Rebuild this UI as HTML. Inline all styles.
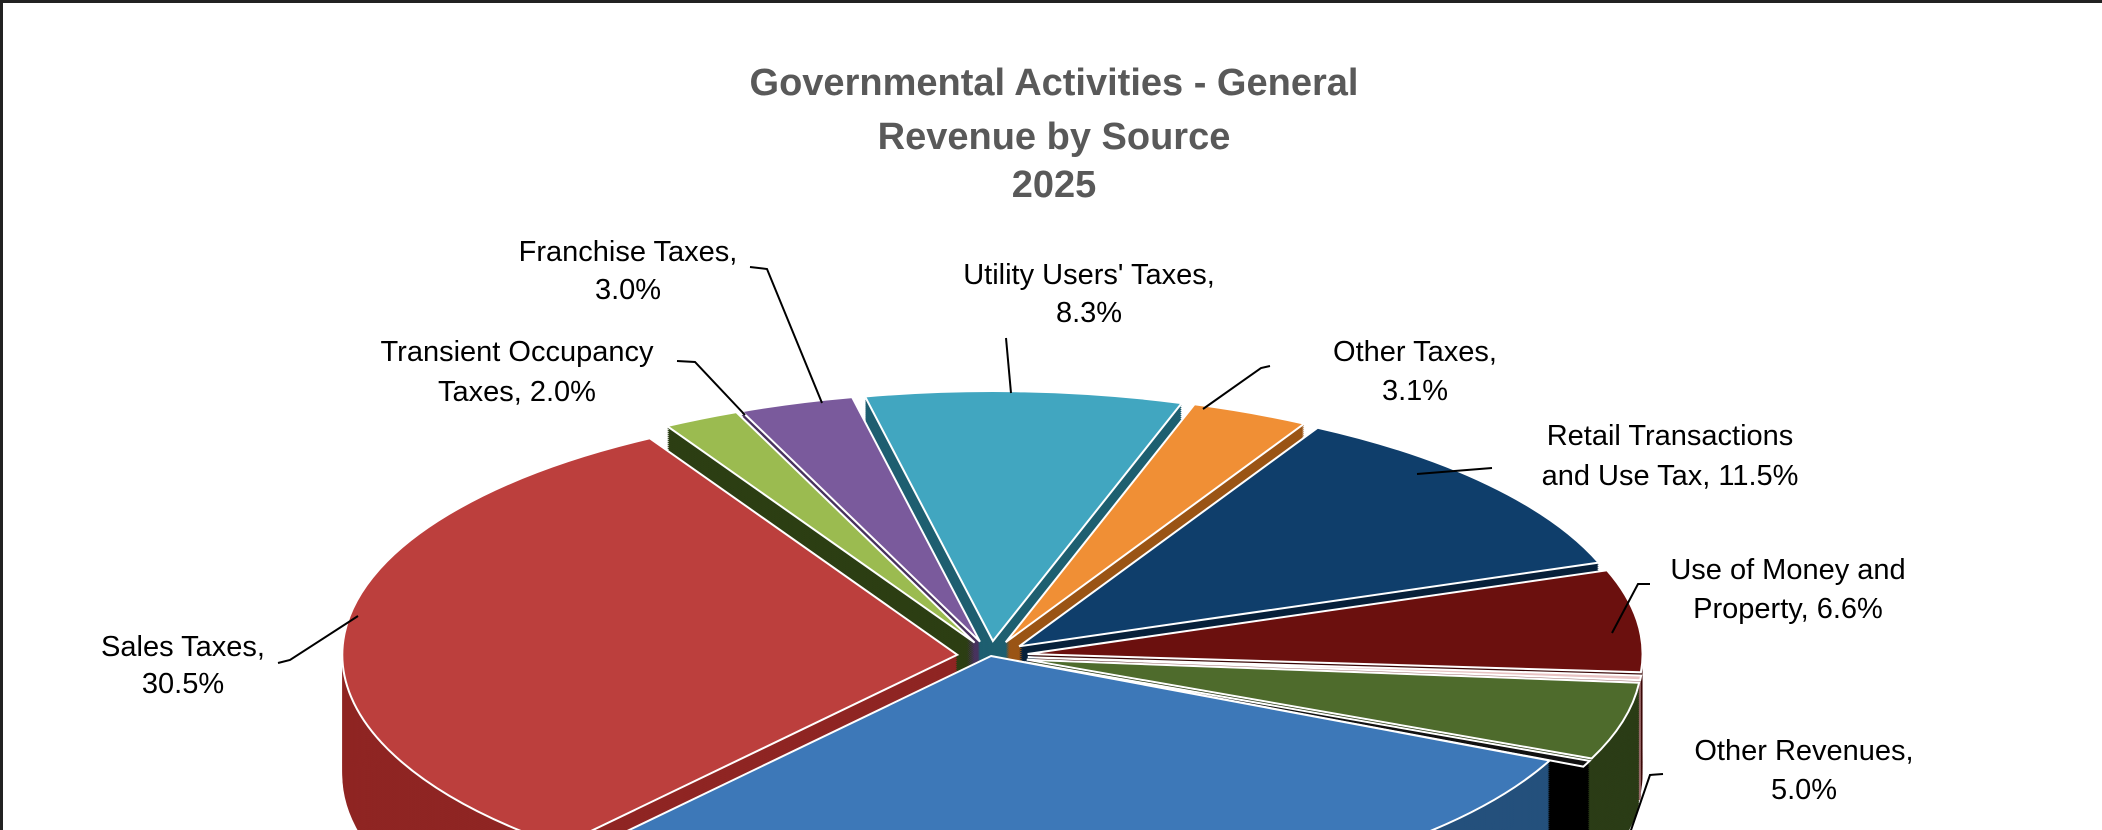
<!DOCTYPE html>
<html><head><meta charset="utf-8"><style>
html,body{margin:0;padding:0;background:#fff;overflow:hidden;width:2102px;height:830px;}
#wrap{position:relative;width:2102px;height:830px;overflow:hidden;background:#fff;border-top:3px solid #222;border-left:3px solid #222;box-sizing:border-box;}
svg{position:absolute;left:0;top:0;}
text{font-family:"Liberation Sans",sans-serif;}
</style></head><body>
<div id="wrap">
<svg id="chart" width="2102" height="830" viewBox="0 0 2102 830">
<g font-weight="bold" font-size="38" fill="#595959" text-anchor="middle">
<text x="1051" y="92">Governmental Activities - General</text>
<text x="1051" y="146">Revenue by Source</text>
<text x="1051" y="194">2025</text>
</g>
<g id="sides"></g>
<g id="tops"></g>
<g id="leaders" stroke="#000" stroke-width="2" fill="none"></g>
<g id="labels" font-size="29" fill="#000" text-anchor="middle"></g>
</svg>
</div>
<script>
const categories = ["Utility Users' Taxes","Other Taxes","Retail Transactions and Use Tax","Use of Money and Property","Intergovernmental","Other Revenues","Investment Earnings","Property Taxes","Sales Taxes","Transient Occupancy Taxes","Franchise Taxes"];
const values = [8.3,3.1,11.5,6.6,0.3,5.0,0.4,29.3,30.5,2.0,3.0];
const valueLabels = ["8.3%","3.1%","11.5%","6.6%","","5.0%","","","30.5%","2.0%","3.0%"];
const topColors = ["#41a6c0","#f08f35","#0f3e6b","#6b100e","#e9c3c3","#4e6b2c","#111111","#3d78b8","#bc3f3d","#9bbb50","#7a5a9c"];
const sideColors = ["#1e5f70","#9a5415","#07203a","#3a0706","#9b6b6b","#2b3c16","#000000","#24507c","#8f2523","#2c3e13","#48325e"];
const explode = [0.06,0.06,0.06,0.06,0.06,0.06,0.06,0,0.055,0.06,0.06];

const cx=988, cy=653, rx=615, ry=250, depth=120;
const startAngle=-12;
const total=values.reduce((a,b)=>a+b,0);
const NS="http://www.w3.org/2000/svg";
const rad=d=>d*Math.PI/180;
function pt(ox,oy,t){return [ox+rx*Math.sin(rad(t)), oy-ry*Math.cos(rad(t))];}
function slicePath(ox,oy,a0,a1){
  const p0=pt(ox,oy,a0), p1=pt(ox,oy,a1);
  const large=(a1-a0)>180?1:0;
  return `M${ox},${oy} L${p0[0]},${p0[1]} A${rx},${ry} 0 ${large} 1 ${p1[0]},${p1[1]} Z`;
}
const slices=[];
let acc=startAngle;
values.forEach((v,i)=>{
  const a0=acc, a1=acc+v/total*360; acc=a1;
  const m=(a0+a1)/2;
  const ox=cx+explode[i]*rx*Math.sin(rad(m));
  const oy=cy-explode[i]*ry*Math.cos(rad(m));
  slices.push({i,a0,a1,m,ox,oy,depthKey:-Math.cos(rad(m))});
});
const sides=document.getElementById('sides');
const tops=document.getElementById('tops');
slices.slice().sort((a,b)=>a.depthKey-b.depthKey).forEach(s=>{
  const g=document.createElementNS(NS,'g');
  
  
  const d=slicePath(s.ox,s.oy,s.a0,s.a1);
  for(let k=depth;k>0;k-=2){
    const p=document.createElementNS(NS,'path');
    p.setAttribute('d',d);
    p.setAttribute('transform',`translate(0,${k})`);
    p.setAttribute('fill',sideColors[s.i]);
    g.appendChild(p);
  }
  sides.appendChild(g);
});
slices.forEach(s=>{
  const p=document.createElementNS(NS,'path');
  p.setAttribute('d',slicePath(s.ox,s.oy,s.a0,s.a1));
  p.setAttribute('fill',topColors[s.i]);
  p.setAttribute('stroke','#ffffff');
  p.setAttribute('stroke-width','2');
  
  
  tops.appendChild(p);
});
const labelDefs=[
  {i:10,x:625,y:[258,296],l1:"Franchise Taxes,",lead:[[747,264],[764,266],[819,400]]},
  {i:0,x:1086,y:[281,319],l1:"Utility Users' Taxes,",lead:[[1003,335],[1008,390]]},
  {i:9,x:514,y:[358,398],l1:"Transient  Occupancy",l2pre:"Taxes, ",lead:[[674,358],[692,359],[742,412]]},
  {i:1,x:1412,y:[358,397],l1:"Other Taxes,",lead:[[1267,363],[1258,365],[1200,406]]},
  {i:2,x:1667,y:[442,482],l1:"Retail Transactions",l2pre:"and Use Tax, ",lead:[[1489,465],[1414,471]]},
  {i:3,x:1785,y:[576,615],l1:"Use of Money and",l2pre:"Property, ",lead:[[1647,581],[1635,581],[1609,630]]},
  {i:8,x:180,y:[653,690],l1:"Sales Taxes,",lead:[[275,660],[287,657],[355,613]]},
  {i:5,x:1801,y:[757,796],l1:"Other Revenues,",lead:[[1660,771],[1647,772],[1627,830]]}
];
const labels=document.getElementById('labels');
const leaders=document.getElementById('leaders');
labelDefs.forEach(L=>{
  const t=document.createElementNS(NS,'text');
  
  
  const s1=document.createElementNS(NS,'tspan');
  s1.setAttribute('x',L.x);s1.setAttribute('y',L.y[0]);s1.textContent=L.l1;
  const s2=document.createElementNS(NS,'tspan');
  s2.setAttribute('x',L.x);s2.setAttribute('y',L.y[1]);s2.textContent=(L.l2pre||"")+valueLabels[L.i];
  t.appendChild(s1);t.appendChild(s2);labels.appendChild(t);
  const pl=document.createElementNS(NS,'polyline');
  pl.setAttribute('points',L.lead.map(p=>p.join(',')).join(' '));
  
  
  leaders.appendChild(pl);
});
</script>
</body></html>
